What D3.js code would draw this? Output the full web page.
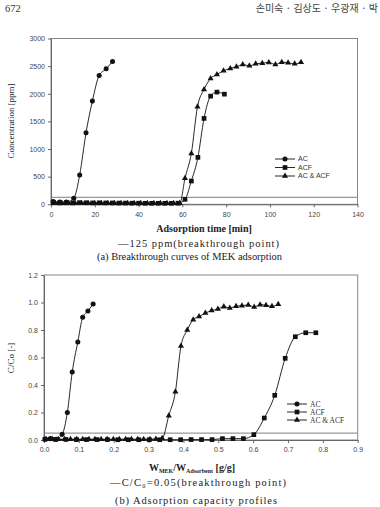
<!DOCTYPE html>
<html><head><meta charset="utf-8">
<script src="https://cdn.jsdelivr.net/npm/d3@7"></script>
<style>body{margin:0;background:#fff;}svg{display:block;}</style>
</head><body>
<script>
// ---------- Data: (a) Breakthrough curves ----------
const acTime   = [1,4,7,10.4,13.1,16,18.9,22,25.2,28.1];
const acConc   = [50,40,40,108,530,1295,1867,2331,2452,2584];
const acfTime  = [1,4,7,10,13,16,19,22,25,28,31,34,37,40,43,46,49,52,55,58,61.2,64.1,67.1,69.9,72.9,75.8,79.2];
const acfConc  = [30,25,28,25,30,28,25,27,25,24,22,22,20,20,18,18,18,17,18,20,90,421,849,1554,1957,2030,1993];
const mixTime  = [2,5,8,11,14,17,20,23,26,29,32,35,38,41,44,47,50,53,56,58.8,61.2,64.1,66.9,69.9,72.9,75.8,78.8,81.9,84.7,87.6,90.6,93.5,96.5,99.5,102.5,105.4,108.3,111.3,114.2];
const mixConc  = [20,20,20,20,20,20,20,20,20,20,20,20,20,20,20,20,20,20,20,18,470,921,1764,2078,2277,2349,2415,2458,2487,2530,2505,2541,2554,2566,2530,2572,2560,2541,2572];
const timeTicks = [0,20,40,60,80,100,120,140];
const concTicks = [0,500,1000,1500,2000,2500,3000];
const breakConc = 125;

// ---------- Data: (b) Adsorption capacity ----------
const acW   = [0.003,0.018,0.035,0.052,0.067,0.081,0.097,0.111,0.126,0.141];
const acC   = [0.008,0.01,0.006,0.041,0.20,0.495,0.713,0.892,0.938,0.989];
const acfW  = [0.003,0.033,0.063,0.093,0.122,0.152,0.182,0.212,0.242,0.272,0.302,0.332,0.362,0.392,0.422,0.452,0.482,0.512,0.542,0.572,0.602,0.632,0.662,0.692,0.721,0.751,0.78];
const acfC  = [0.005,0.004,0.004,0.003,0.003,0.003,0.003,0.002,0.002,0.002,0.002,0.002,0.002,0.002,0.003,0.003,0.003,0.01,0.01,0.01,0.039,0.16,0.325,0.594,0.751,0.78,0.78];
const mixW  = [0.006,0.024,0.041,0.059,0.076,0.094,0.111,0.129,0.146,0.164,0.181,0.199,0.216,0.234,0.251,0.269,0.286,0.304,0.321,0.339,0.358,0.377,0.393,0.411,0.428,0.445,0.463,0.481,0.499,0.516,0.533,0.551,0.568,0.586,0.603,0.62,0.637,0.654,0.672];
const mixC  = [0.006,0.006,0.006,0.006,0.006,0.006,0.006,0.006,0.006,0.006,0.006,0.006,0.006,0.006,0.006,0.006,0.006,0.006,0.008,0.012,0.177,0.351,0.684,0.80,0.875,0.898,0.923,0.942,0.952,0.97,0.96,0.973,0.977,0.982,0.967,0.984,0.98,0.972,0.987];
const wTicks = [0,0.1,0.2,0.3,0.4,0.5,0.6,0.7,0.8,0.9];
const ratioTicks = [0,0.2,0.4,0.6,0.8,1.0,1.2];
const breakRatio = 0.05;

const seriesNames = ["AC","ACF","AC & ACF"];

const svg = d3.select("body").append("svg").attr("width",380).attr("height",507);

// header
svg.append("text").attr("x",5).attr("y",12).attr("font-family","Liberation Serif, serif")
  .attr("font-size",10.5).attr("fill","#333").text("672");
svg.append("text").attr("x",378).attr("y",12).attr("text-anchor","end").attr("font-family","Noto Sans CJK KR").attr("font-size",10)
  .attr("fill","#444").text("손미숙 · 김상도 · 우광재 · 박");

const symbols = [d3.symbolCircle, d3.symbolSquare, d3.symbolTriangle];
const symSizes = [20, 22, 16];

function drawChart(o){
  const x = d3.scaleLinear().domain(o.xDomain).range([o.left,o.right]);
  const y = d3.scaleLinear().domain(o.yDomain).range([o.bottom,o.top]);
  const g = svg.append("g");
  g.append("rect").attr("x",o.left).attr("y",o.top).attr("width",o.right-o.left).attr("height",o.bottom-o.top)
    .attr("fill","none").attr("stroke","#888").attr("stroke-width",1);
  g.append("line").attr("x1",o.left).attr("x2",o.right).attr("y1",y(o.breakVal)).attr("y2",y(o.breakVal))
    .attr("stroke","#999").attr("stroke-width",1.3);
  const xa = g.append("g").attr("transform",`translate(0,${o.bottom})`)
    .call(d3.axisBottom(x).tickValues(o.xTicks).tickFormat(o.xFmt).tickSize(3).tickSizeOuter(0));
  const ya = g.append("g").attr("transform",`translate(${o.left},0)`)
    .call(d3.axisLeft(y).tickValues(o.yTicks).tickFormat(o.yFmt).tickSize(3).tickSizeOuter(0));
  [xa,ya].forEach(a=>{
    a.select(".domain").attr("stroke","#666");
    a.selectAll(".tick line").attr("stroke","#666");
    a.selectAll(".tick text").attr("font-family","Liberation Sans, Arial, sans-serif")
      .attr("font-size",7).attr("fill","#444");
  });
  xa.selectAll(".tick text").attr("dy","0.9em");
  const line = d3.line().x(d=>x(d[0])).y(d=>y(d[1])).curve(d3.curveMonotoneX);
  o.series.forEach((s,i)=>{
    const pts = s.x.map((v,k)=>[v,s.y[k]]);
    g.append("path").attr("d",line(pts)).attr("fill","none").attr("stroke","#111").attr("stroke-width",0.9);
    g.selectAll(null).data(pts).join("path")
      .attr("transform",d=>`translate(${x(d[0])},${y(d[1])})`)
      .attr("d",d3.symbol().type(symbols[i]).size(symSizes[i])).attr("fill","#111");
  });
  seriesNames.forEach((n,i)=>{
    const ly = o.legY + i*o.legDy;
    g.append("line").attr("x1",o.legX).attr("x2",o.legX+20).attr("y1",ly).attr("y2",ly).attr("stroke","#111").attr("stroke-width",0.9);
    g.append("path").attr("transform",`translate(${o.legX+10},${ly})`)
      .attr("d",d3.symbol().type(symbols[i]).size(symSizes[i])).attr("fill","#111");
    g.append("text").attr("x",o.legX+23).attr("y",ly).attr("dy","0.35em")
      .attr("font-family",o.legFont).attr("font-size",o.legSize).attr("fill","#333").text(n);
  });
  return {x,y,g};
}

drawChart({
  left:51, right:357.5, top:38.5, bottom:204.3,
  xDomain:[0,140], yDomain:[0,3000], xTicks:timeTicks, yTicks:concTicks,
  xFmt:d3.format("d"), yFmt:d3.format("d"), breakVal:breakConc,
  series:[{x:acTime,y:acConc},{x:acfTime,y:acfConc},{x:mixTime,y:mixConc}],
  legX:275, legY:159, legDy:8.5, legFont:"Liberation Sans, Arial, sans-serif", legSize:7
});
drawChart({
  left:44, right:357.7, top:275, bottom:440,
  xDomain:[0,0.9], yDomain:[0,1.2], xTicks:wTicks, yTicks:ratioTicks,
  xFmt:d3.format(".1f"), yFmt:d3.format(".1f"), breakVal:breakRatio,
  series:[{x:acW,y:acC},{x:acfW,y:acfC},{x:mixW,y:mixC}],
  legX:287, legY:404, legDy:8, legFont:"Liberation Serif, serif", legSize:7.5
});

svg.append("text").attr("transform","translate(14,121) rotate(-90)").attr("text-anchor","middle")
  .attr("font-family","Liberation Serif, serif").attr("font-size",9).attr("fill","#222").text("Concentration [ppm]");
svg.append("text").attr("x",204).attr("y",232).attr("text-anchor","middle")
  .attr("font-family","Liberation Serif, serif").attr("font-weight","bold").attr("font-size",10).attr("fill","#222")
  .text("Adsorption time [min]");
svg.append("text").attr("x",118).attr("y",247).attr("textLength",161).attr("lengthAdjust","spacing")
  .attr("font-family","Liberation Serif, serif").attr("font-size",10.5).attr("fill","#222").text("—125 ppm(breakthrough point)");
svg.append("text").attr("x",97).attr("y",260).attr("textLength",185).attr("lengthAdjust","spacing")
  .attr("font-family","Liberation Serif, serif").attr("font-size",10.5).attr("fill","#222").text("(a) Breakthrough curves of MEK adsorption");

svg.append("text").attr("transform","translate(14,358) rotate(-90)").attr("text-anchor","middle")
  .attr("font-family","Liberation Serif, serif").attr("font-size",9).attr("fill","#222").text("C/Co [-]");
const xt = svg.append("text").attr("x",192).attr("y",471).attr("text-anchor","middle")
  .attr("font-family","Liberation Serif, serif").attr("font-weight","bold").attr("font-size",10).attr("fill","#222");
xt.append("tspan").text("W");
xt.append("tspan").attr("font-size",6).attr("dy",2).text("MEK");
xt.append("tspan").attr("dy",-2).text("/W");
xt.append("tspan").attr("font-size",6).attr("dy",2).text("Adsorbent");
xt.append("tspan").attr("dy",-2).text(" [g/g]");
svg.append("text").attr("x",110).attr("y",486).attr("textLength",176).attr("lengthAdjust","spacing")
  .attr("font-family","Liberation Serif, serif").attr("font-size",10.5).attr("fill","#222").text("—C/C₀=0.05(breakthrough point)");
svg.append("text").attr("x",115).attr("y",504).attr("textLength",162).attr("lengthAdjust","spacing")
  .attr("font-family","Liberation Serif, serif").attr("font-size",10.5).attr("fill","#222").text("(b) Adsorption capacity profiles");
</script>
</body></html>
